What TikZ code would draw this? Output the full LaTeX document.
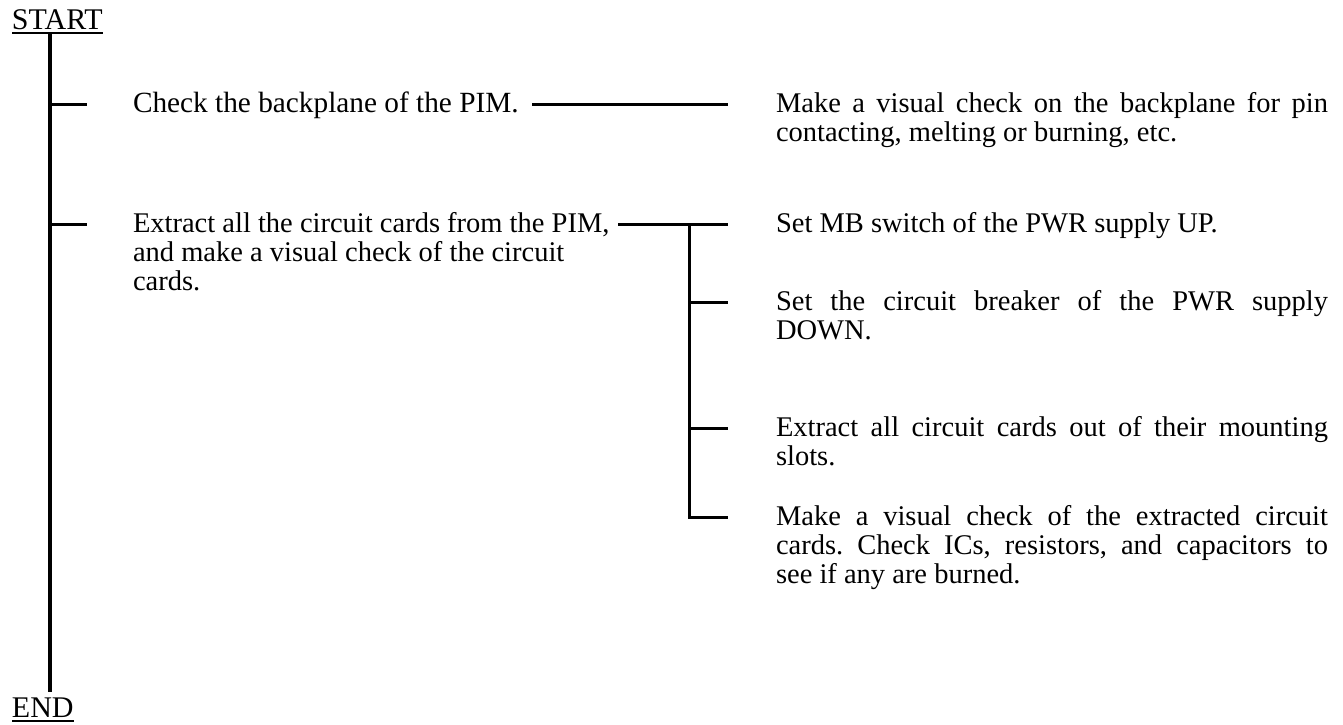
\documentclass[tikz,border=0pt]{standalone}
\usepackage{fontspec}
\setmainfont{Liberation Serif}
\hbadness=10000
\frenchspacing
\newcommand\jline[1]{\hbox to 552pt{#1}}
\newcommand\nline[1]{\hbox{#1}}
\begin{document}
\begin{tikzpicture}[x=1pt,y=-1pt,
  txt/.style={anchor=base west, inner sep=0pt, outer sep=0pt, font=\fontsize{28.5}{29}\selectfont\frenchspacing},
  term/.style={txt, font=\fontsize{30}{30}\selectfont},
  conn/.style={line width=3pt, line join=miter},
  trunk/.style={line width=3.5pt},
  uline/.style={line width=2pt}]
\useasboundingbox (0,0) rectangle (1343,724);
% terminals
\node[term] (start) at (12,29) {START};
\node[term] (end) at (12,717) {END};
\draw[uline] ([yshift=-4pt]start.base west) -- ([yshift=-4pt]start.base east);
\draw[uline] ([yshift=-4pt]end.base west) -- ([yshift=-4pt]end.base east);
% trunk
\coordinate (mtop) at (50,34);
\coordinate (mbot) at (50,692);
\draw[trunk] (mtop) -- (mbot);
% branch 1
\coordinate (j1) at (50,104);
\coordinate (s1) at (87,104);
\draw[conn] (j1) -- (s1);
\node[txt, font=\fontsize{29.3}{29}\selectfont] (a1) at (133,112) {\vtop{\nline{Check the backplane of the PIM.}}};
\coordinate (l1a) at (532,104);
\coordinate (l1b) at (728,104);
\draw[conn] (l1a) -- (l1b);
\node[txt] (b1) at (776,112) {\vtop{\jline{Make a visual check on the backplane for pin}\nline{contacting, melting or burning, etc.}}};
% branch 2
\coordinate (j2) at (50,224);
\coordinate (s2) at (87,224);
\draw[conn] (j2) -- (s2);
\node[txt] (a2) at (133,232) {\vtop{\nline{Extract all the circuit cards from the PIM,}\nline{and make a visual check of the circuit}\nline{cards.}}};
\coordinate (l2a) at (618,224);
\coordinate (k1) at (689,224);
\coordinate (k2) at (689,302);
\coordinate (k3) at (689,428);
\coordinate (k4) at (689,517);
\coordinate (e1) at (728,224);
\coordinate (e2) at (728,302);
\coordinate (e3) at (728,428);
\coordinate (e4) at (728,517);
\draw[conn] (l2a) -- (e1);
\draw[conn] (k1) -- (k4) -- (e4);
\draw[conn] (k2) -- (e2);
\draw[conn] (k3) -- (e3);
\node[txt] (c1) at (776,232) {\vtop{\nline{Set MB switch of the PWR supply UP.}}};
\node[txt] (c2) at (776,310) {\vtop{\jline{Set the circuit breaker of the PWR supply}\nline{DOWN.}}};
\node[txt] (c3) at (776,436) {\vtop{\jline{Extract all circuit cards out of their mounting}\nline{slots.}}};
\node[txt] (c4) at (776,525) {\vtop{\jline{Make a visual check of the extracted circuit}\jline{cards. Check ICs, resistors, and capacitors to}\nline{see if any are burned.}}};
\end{tikzpicture}
\end{document}
